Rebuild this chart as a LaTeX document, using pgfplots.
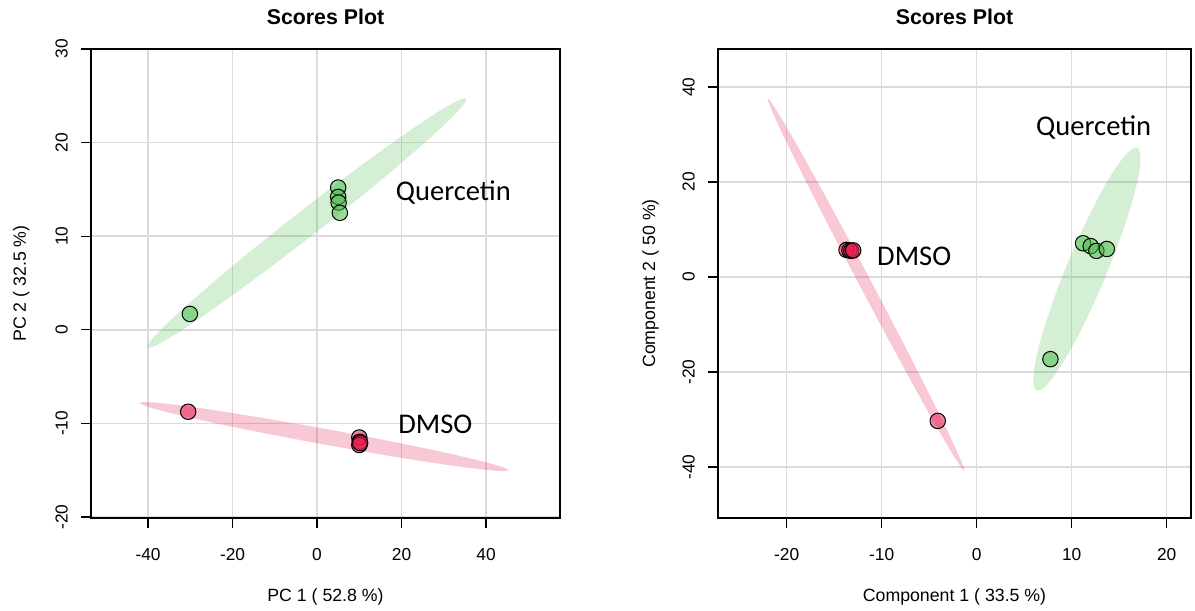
\documentclass[border=0pt]{standalone}
\usepackage{pgfplots}
\pgfplotsset{compat=1.18}
\usepackage{fontspec}
\setmainfont{Liberation Sans}
\newfontfamily\carlito{Carlito}
\definecolor{qgreen}{HTML}{4CBB4C}
\definecolor{dmso}{HTML}{E21D4F}
\pgfplotsset{
  every axis title/.style={at={(axis description cs:0.5,1.0512)}, anchor=base, font=\bfseries\fontsize{16}{19}\selectfont},
  scoresaxis/.style={
    scale only axis,
    height=351.75pt,
    anchor=south west,
    axis line style={line width=1.2pt, black},
    tick pos=left,
    tick align=outside,
    major tick length=7.5pt,
    tick style={line width=1pt, black},
    grid=major,
    major grid style={draw=black!14, line width=1.1pt},
    /pgf/number format/assume math mode=true,
    ticklabel style={font=\fontsize{13}{15}\selectfont},
    xticklabel style={anchor=base},
    xticklabel shift=24.5pt,
    yticklabel style={rotate=90, anchor=base},
    yticklabel shift=10pt,
    label style={font=\fontsize{13.3}{16}\selectfont},
    xlabel style={at={(axis description cs:0.5,-0.179)}, anchor=base},
  },
  ell/.style={draw=none, fill=#1, fill opacity=0.24, smooth, forget plot},
  pts/.style={only marks, mark=*, mark size=5.8pt, mark options={fill=#1, fill opacity=0.55, draw=black, line width=0.75pt}},
}
\begin{document}
\begin{tikzpicture}
\path[use as bounding box] (0,0) rectangle (896.25pt,457.5pt);
\begin{axis}[scoresaxis, at={(68.25pt,69pt)}, width=351.75pt,
  xmin=-53.5, xmax=57.5, ymin=-20.1, ymax=30,
  xtick={-40,-20,0,20,40}, ytick={-20,-10,0,10,20,30},
  title={Scores Plot}, xlabel={PC 1 ( 52.8 \%)}, ylabel={PC 2 ( 32.5 \%)},
  ylabel style={at={(axis description cs:-0.1386,0.5)}, anchor=base}]
\addplot[ell=qgreen] coordinates {(-0.56,10.30) (-10.39,6.90) (-19.69,3.80) (-27.81,1.22) (-34.20,-0.67) (-38.42,-1.73) (-40.20,-1.90) (-39.40,-1.16) (-36.09,0.43) (-30.48,2.77) (-22.96,5.70) (-14.05,9.02) (-4.34,12.50) (5.49,15.90) (14.79,19.00) (22.91,21.58) (29.30,23.47) (33.52,24.53) (35.30,24.70) (34.50,23.96) (31.19,22.37) (25.58,20.03) (18.06,17.10) (9.15,13.78) (-0.56,10.30)};
\addplot[ell=dmso] coordinates {(1.32,-12.22) (-9.99,-11.26) (-20.51,-10.31) (-29.52,-9.43) (-36.41,-8.69) (-40.70,-8.13) (-42.10,-7.80) (-40.52,-7.71) (-36.07,-7.87) (-29.05,-8.27) (-19.94,-8.89) (-9.35,-9.68) (1.98,-10.58) (13.29,-11.54) (23.81,-12.49) (32.82,-13.37) (39.71,-14.11) (44.00,-14.67) (45.40,-15.00) (43.82,-15.09) (39.37,-14.93) (32.35,-14.53) (23.24,-13.91) (12.65,-13.12) (1.32,-12.22)};
\addplot[pts=qgreen] coordinates {(5.0,15.2) (5.0,14.2) (5.1,13.6) (5.4,12.5) (-30.1,1.7)};
\addplot[pts=dmso] coordinates {(-30.5,-8.75) (10.0,-11.5) (10.1,-11.95) (10.0,-12.3) (10.2,-12.1)};
\node[anchor=base west, inner sep=0, font=\carlito\fontsize{21.4}{25}\selectfont] at (axis cs:18.6,13.8) {Quercetin};
\node[anchor=base west, inner sep=0, font=\carlito\fontsize{21.4}{25}\selectfont] at (axis cs:19.2,-11.03) {DMSO};
\end{axis}
\begin{axis}[scoresaxis, at={(538.5pt,69pt)}, width=354.75pt,
  xmin=-27.23, xmax=22.56, ymin=-50.74, ymax=48,
  xtick={-20,-10,0,10,20}, ytick={-40,-20,0,20,40},
  title={Scores Plot}, xlabel={Component 1 ( 33.5 \%)}, ylabel={Component 2 ( 50 \%)},
  ylabel style={at={(axis description cs:-0.1332,0.5)}, anchor=base}]
\addplot[ell=dmso] coordinates {(-11.09,-1.01) (-13.79,9.12) (-16.34,18.51) (-18.57,26.54) (-20.33,32.65) (-21.50,36.41) (-22.00,37.60) (-21.79,36.11) (-20.89,32.05) (-19.36,25.70) (-17.31,17.49) (-14.87,7.98) (-12.21,-2.19) (-9.51,-12.32) (-6.96,-21.71) (-4.73,-29.74) (-2.97,-35.85) (-1.80,-39.61) (-1.30,-40.80) (-1.51,-39.31) (-2.41,-35.25) (-3.94,-28.90) (-5.99,-20.69) (-8.43,-11.18) (-11.09,-1.01)};
\addplot[ell=qgreen] coordinates {(13.55,0.04) (12.11,-6.52) (10.64,-12.52) (9.23,-17.56) (7.98,-21.29) (6.99,-23.45) (6.30,-23.90) (5.98,-22.61) (6.03,-19.67) (6.47,-15.27) (7.26,-9.73) (8.34,-3.40) (9.65,3.27) (11.09,9.82) (12.56,15.82) (13.97,20.86) (15.22,24.59) (16.21,26.75) (16.90,27.20) (17.22,25.91) (17.17,22.97) (16.73,18.57) (15.94,13.03) (14.86,6.70) (13.55,0.04)};
\addplot[pts=dmso] coordinates {(-13.7,5.7) (-13.4,5.6) (-13.2,5.5) (-13.0,5.6) (-4.1,-30.3)};
\addplot[pts=qgreen] coordinates {(11.2,7.1) (12.0,6.5) (12.6,5.5) (13.7,5.9) (7.76,-17.3)};
\node[anchor=base west, inner sep=0, font=\carlito\fontsize{21.4}{25}\selectfont] at (axis cs:6.24,29.7) {Quercetin};
\node[anchor=base west, inner sep=0, font=\carlito\fontsize{21.4}{25}\selectfont] at (axis cs:-10.5,2.45) {DMSO};
\end{axis}
\end{tikzpicture}
\end{document}
